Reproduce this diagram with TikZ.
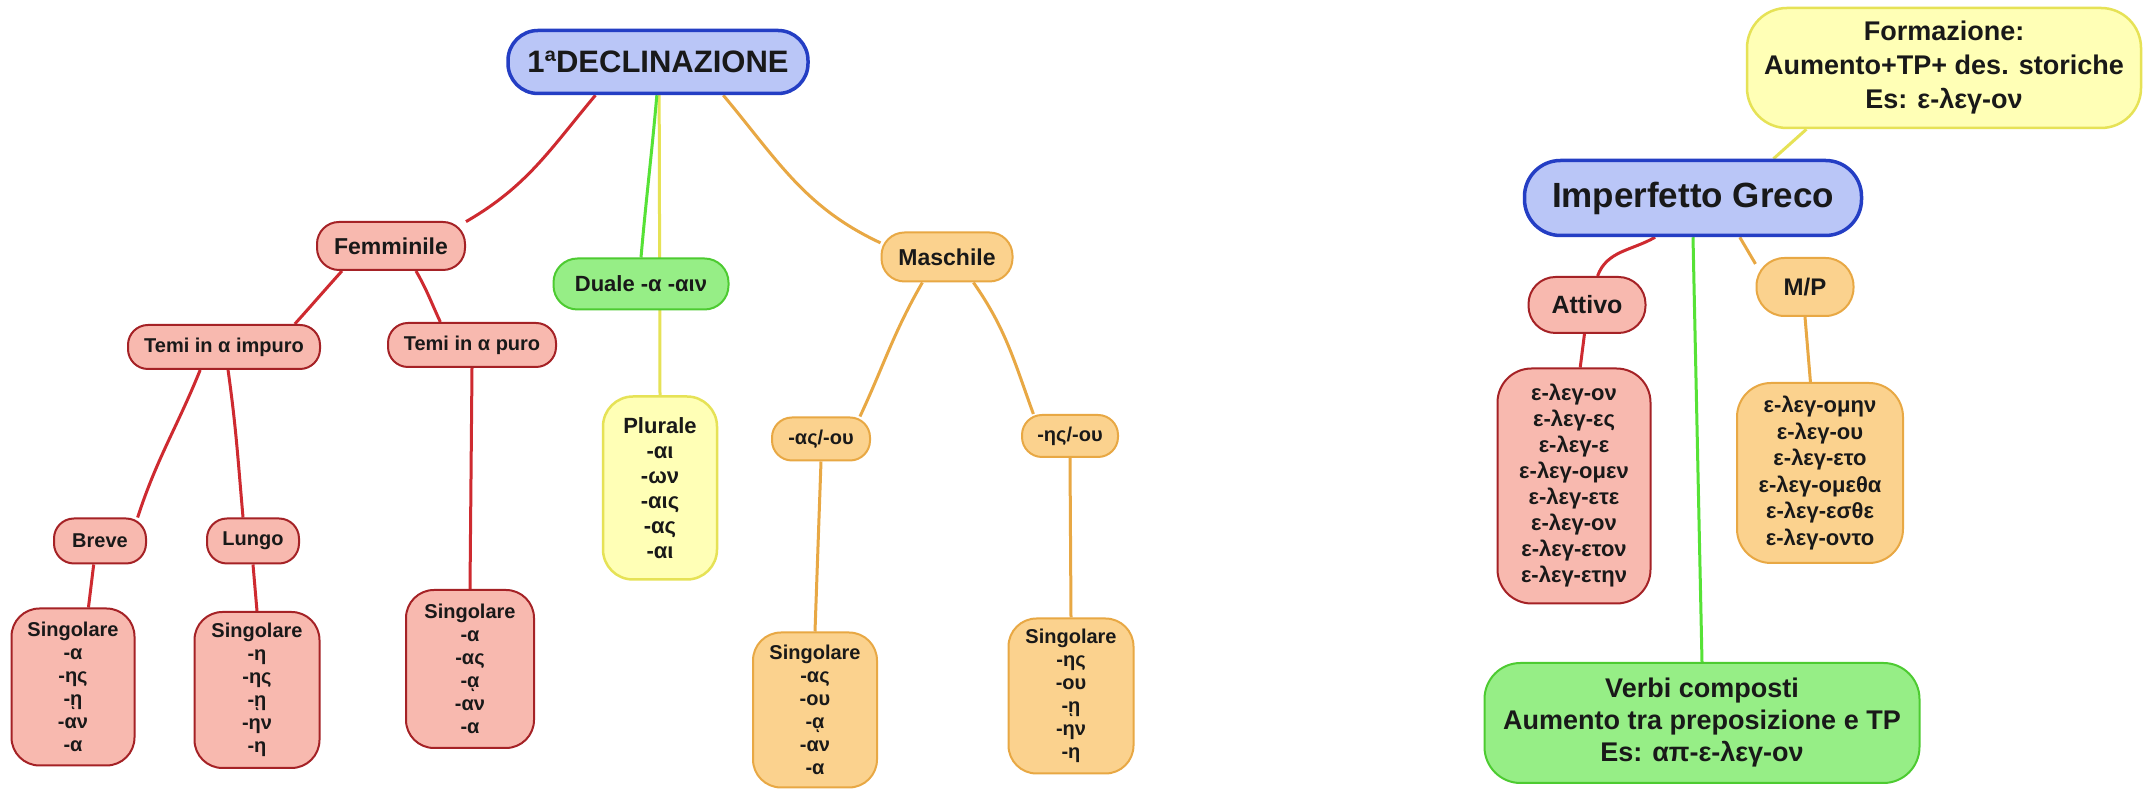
\documentclass[tikz,border=0pt]{standalone}
\usepackage{fontspec}
\setmainfont{Liberation Sans}
\usetikzlibrary{backgrounds}

\definecolor{bluefill}{RGB}{186,198,247}
\definecolor{blueline}{RGB}{36,62,196}
\definecolor{redfill}{RGB}{248,185,175}
\definecolor{redline}{RGB}{206,42,48}
\definecolor{greenfill}{RGB}{150,238,134}
\definecolor{greenline}{RGB}{86,226,54}
\definecolor{yellowfill}{RGB}{255,255,182}
\definecolor{yellowline}{RGB}{230,226,86}
\definecolor{orangefill}{RGB}{251,210,142}
\definecolor{orangeline}{RGB}{232,168,68}
\newcommand{\fsz}[2]{\fontsize{#1}{#2}\selectfont\bfseries}

\begin{document}
\begin{tikzpicture}[x=1pt,y=1pt,line cap=round]
  \tikzstyle{topic}=[rectangle,inner sep=0pt,align=center,text=black!90]
  \tikzstyle{bluen}=[topic,fill=bluefill,draw=blueline,line width=3.5pt]
  \tikzstyle{redn}=[topic,fill=redfill,draw=redline!80!black,line width=2pt]
  \tikzstyle{greenn}=[topic,fill=greenfill,draw=greenline!90!black,line width=2pt]
  \tikzstyle{yellown}=[topic,fill=yellowfill,draw=yellowline,line width=2.5pt]
  \tikzstyle{orangen}=[topic,fill=orangefill,draw=orangeline,line width=2pt]
  \tikzstyle{link}=[line width=3pt]
  \useasboundingbox (0,0) rectangle (2153,789);

  % 1a declinazione
  \node[bluen,minimum width=300pt,minimum height=63pt,rounded corners=30pt,font=\fsz{31}{36}] (decl) at (658,727) {1ªDECLINAZIONE};
  \node[redn,minimum width=148pt,minimum height=48pt,rounded corners=22pt,font=\fsz{23}{27}] (femm) at (391,543) {Femminile};
  \node[redn,minimum width=192pt,minimum height=44pt,rounded corners=20pt,font=\fsz{20}{23}] (impuro) at (224,442) {Temi in α impuro};
  \node[redn,minimum width=168pt,minimum height=44pt,rounded corners=20pt,font=\fsz{20}{23}] (puro) at (472,444) {Temi in α puro};
  \node[redn,minimum width=92pt,minimum height=45pt,rounded corners=20pt,font=\fsz{20}{23}] (breve) at (100,248) {Breve};
  \node[redn,minimum width=92pt,minimum height=45pt,rounded corners=20pt,font=\fsz{20}{23}] (lungo) at (253,248) {Lungo};
  \node[redn,minimum width=123pt,minimum height=157pt,rounded corners=28pt,font=\fsz{20}{23}] (singA) at (73,102) {Singolare\\-α\\-ης\\-ῃ\\-αν\\-α};
  \node[redn,minimum width=125pt,minimum height=156pt,rounded corners=28pt,font=\fsz{20}{23}] (singB) at (257,99) {Singolare\\-η\\-ης\\-ῃ\\-ην\\-η};
  \node[redn,minimum width=128pt,minimum height=158pt,rounded corners=28pt,font=\fsz{20}{23}] (singC) at (470,120) {Singolare\\-α\\-ας\\-ᾳ\\-αν\\-α};
  \node[greenn,minimum width=175pt,minimum height=51pt,rounded corners=24pt,font=\fsz{22}{26}] (duale) at (641,505) {Duale -α -αιν};
  \node[yellown,minimum width=114pt,minimum height=183pt,rounded corners=30pt,font=\fsz{22}{25}] (plurale) at (660,301) {Plurale\\-αι\\-ων\\-αις\\-ας\\-αι};
  \node[orangen,minimum width=131pt,minimum height=49pt,rounded corners=23pt,font=\fsz{23}{27}] (masch) at (947,532) {Maschile};
  \node[orangen,minimum width=98pt,minimum height=43pt,rounded corners=20pt,font=\fsz{20}{23}] (asou) at (821,350) {-ας/-ου};
  \node[orangen,minimum width=96pt,minimum height=42pt,rounded corners=20pt,font=\fsz{20}{23}] (esou) at (1070,353) {-ης/-ου};
  \node[orangen,minimum width=124pt,minimum height=155pt,rounded corners=28pt,font=\fsz{20}{23}] (singD) at (815,79) {Singolare\\-ας\\-ου\\-ᾳ\\-αν\\-α};
  \node[orangen,minimum width=125pt,minimum height=155pt,rounded corners=28pt,font=\fsz{20}{23}] (singE) at (1071,93) {Singolare\\-ης\\-ου\\-ῃ\\-ην\\-η};

  % imperfetto
  \node[yellown,minimum width=394pt,minimum height=120pt,rounded corners=40pt,font=\fsz{27}{34}] (formaz) at (1944,721) {Formazione:\\Aumento+TP+ des. storiche\\Es: ε-λεγ-ον};
  \node[bluen,minimum width=337pt,minimum height=75pt,rounded corners=36pt,font=\fsz{35}{40}] (imperf) at (1693,591) {Imperfetto Greco};
  \node[redn,minimum width=117pt,minimum height=56pt,rounded corners=27pt,font=\fsz{25}{29}] (attivo) at (1587,484) {Attivo};
  \node[orangen,minimum width=97pt,minimum height=58pt,rounded corners=28pt,font=\fsz{24}{28}] (mp) at (1805,502) {M/P};
  \node[redn,minimum width=153pt,minimum height=235pt,rounded corners=34pt,font=\fsz{22}{26}] (attlist) at (1574,303) {ε-λεγ-ον\\ε-λεγ-ες\\ε-λεγ-ε\\ε-λεγ-ομεν\\ε-λεγ-ετε\\ε-λεγ-ον\\ε-λεγ-ετον\\ε-λεγ-ετην};
  \node[orangen,minimum width=166pt,minimum height=180pt,rounded corners=34pt,font=\fsz{22}{26.5}] (mplist) at (1820,316) {ε-λεγ-ομην\\ε-λεγ-ου\\ε-λεγ-ετο\\ε-λεγ-ομεθα\\ε-λεγ-εσθε\\ε-λεγ-οντο};
  \node[greenn,minimum width=435pt,minimum height=120pt,rounded corners=36pt,font=\fsz{27}{32}] (verbi) at (1702,66) {Verbi composti\\Aumento tra preposizione e TP\\Es: απ-ε-λεγ-ον};

  \begin{scope}[on background layer]
    \fill[white] (0,0) rectangle (2153,789);
    % rami della declinazione
    \draw[link,redline] (decl.208) to[out=230,in=30] (femm.18);
    \draw[link,redline] (femm.207) to[out=228,in=48] (impuro.18);
    \draw[link,redline] (femm.-45) to[out=-60,in=115] (puro.144);
    \draw[link,redline] (impuro.224) to[out=248,in=72] (breve.32);
    \draw[link,redline] (impuro.-80) to[out=-82,in=95] (lungo.113);
    \draw[link,redline] (puro.south) -- (singC.north);
    \draw[link,redline] (breve.-105) -- (singA.79);
    \draw[link,redline] (lungo.south) -- (singB.north);
    \draw[link,yellowline] (decl.-88) -- (plurale.north);
    \draw[link,greenline] (decl.268) to[out=-95,in=85] (duale.north);
    \draw[link,orangeline] (decl.-27) to[out=-50,in=155] (masch.168);
    \draw[link,orangeline] (masch.226) to[out=240,in=65] (asou.30);
    \draw[link,orangeline] (masch.-44) to[out=-55,in=110] (esou.149);
    \draw[link,orangeline] (asou.south) -- (singD.north);
    \draw[link,orangeline] (esou.south) -- (singE.north);
    % rami dell'imperfetto
    \draw[link,yellowline] (imperf.26) -- (formaz.204);
    \draw[link,redline] (imperf.226) to[out=210,in=70] (attivo.70);
    \draw[link,greenline] (imperf.south) -- (verbi.north);
    \draw[link,orangeline] (imperf.-40) -- (mp.155);
    \draw[link,redline] (attivo.265) -- (attlist.87);
    \draw[link,orangeline] (mp.south) -- (mplist.96);
  \end{scope}
\end{tikzpicture}
\end{document}
